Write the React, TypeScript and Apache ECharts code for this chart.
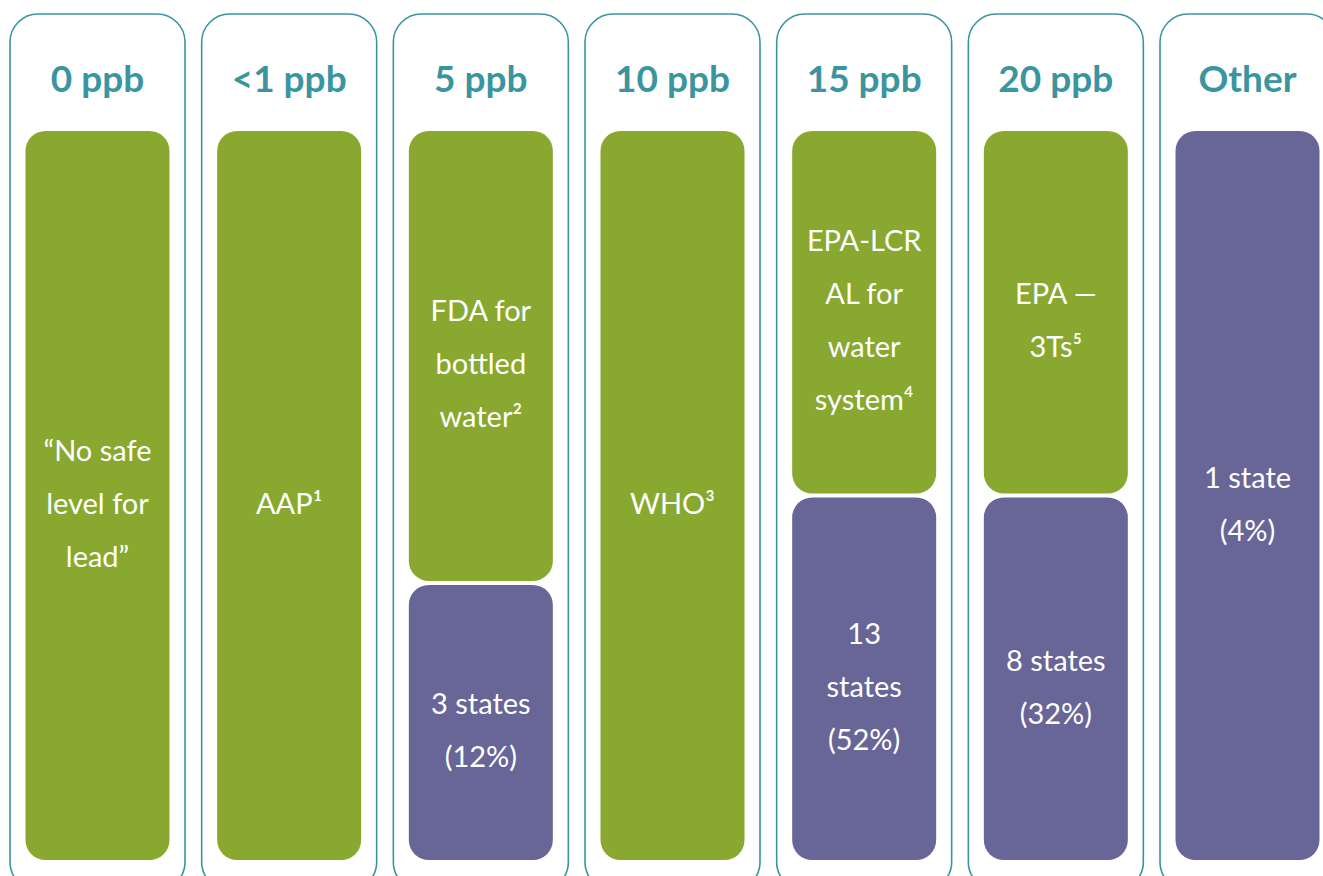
import React, { useEffect, useRef } from "react";
import * as echarts from "echarts";

const categories = ["0 ppb", "<1 ppb", "5 ppb", "10 ppb", "15 ppb", "20 ppb", "Other"];
const standardLabels = [
  "“No safe\nlevel for\nlead”",
  "AAP¹",
  "FDA for\nbottled\nwater²",
  "WHO³",
  "EPA-LCR\nAL for\nwater\nsystem⁴",
  "EPA —\n3Ts⁵",
  "",
];
const standardHeights = [100, 100, 62, 100, 50, 50, 0];
const stateHeights = [0, 0, 38, 0, 50, 50, 100];
const stateLabels = ["", "", "3 states\n(12%)", "", "13\nstates\n(52%)", "8 states\n(32%)", "1 state\n(4%)"];

const TEAL = "#3a95a1";
const GREEN = "#88a82f";
const PURPLE = "#676697";
const FONT = "Lato, 'Open Sans', sans-serif";

export default function App() {
  const ref = useRef<HTMLDivElement>(null);
  useEffect(() => {
    if (!ref.current) return;
    const chart = echarts.init(ref.current, undefined, { renderer: "svg" });
    const data = categories.map((c, i) => [i, standardHeights[i], stateHeights[i]]);
    chart.setOption({
      animation: false,
      grid: {
        left: 1.67,
        width: 1341.67,
        top: 131,
        bottom: 16,
        containLabel: false,
        outerBoundsMode: "none",
      },
      xAxis: { type: "category", data: categories, show: false },
      yAxis: { type: "value", min: 0, max: 100, show: false },
      series: [
        {
          type: "custom",
          clip: false,
          data,
          encode: { x: 0, y: 1 },
          renderItem: (params: any, api: any) => {
            const i = api.value(0);
            const g = api.value(1);
            const p = api.value(2);
            const base = api.coord([i, 0]);
            const cx = base[0];
            const yBottom = base[1];
            const yTop = api.coord([i, g + p])[1];
            const yMid = api.coord([i, p])[1];
            const outerW = 175;
            const innerW = 144;
            const children: any[] = [];
            children.push({
              type: "rect",
              shape: { x: cx - outerW / 2, y: 14, width: outerW, height: 890 - 14, r: 28 },
              style: { fill: "none", stroke: TEAL, lineWidth: 1.6 },
            });
            children.push({
              type: "text",
              style: {
                text: categories[i],
                x: cx,
                y: 77,
                align: "center",
                verticalAlign: "middle",
                fill: TEAL,
                fontSize: 37,
                fontWeight: "bold",
                fontFamily: FONT,
              },
            });
            const gap = 2;
            const labelStyle = {
              align: "center",
              verticalAlign: "middle",
              fill: "#ffffff",
              fontSize: 29,
              fontWeight: "normal",
              lineHeight: 53,
              fontFamily: FONT,
            };
            if (g > 0) {
              const y1 = yTop;
              const y2 = p > 0 ? yMid - gap : yBottom;
              children.push({
                type: "rect",
                shape: { x: cx - innerW / 2, y: y1, width: innerW, height: y2 - y1, r: 20 },
                style: { fill: GREEN },
              });
              children.push({
                type: "text",
                style: { ...labelStyle, text: standardLabels[i], x: cx, y: (y1 + y2) / 2 + 7 },
              });
            }
            if (p > 0) {
              const y1 = g > 0 ? yMid + gap : yTop;
              const y2 = yBottom;
              children.push({
                type: "rect",
                shape: { x: cx - innerW / 2, y: y1, width: innerW, height: y2 - y1, r: 20 },
                style: { fill: PURPLE },
              });
              children.push({
                type: "text",
                style: { ...labelStyle, text: stateLabels[i], x: cx, y: (y1 + y2) / 2 + 7 },
              });
            }
            return { type: "group", children };
          },
        },
      ],
    });
    return () => chart.dispose();
  }, []);
  return (
    <div
      ref={ref}
      style={{ position: "absolute", left: 0, top: 0, width: 1323, height: 876, background: "#fff" }}
    />
  );
}
